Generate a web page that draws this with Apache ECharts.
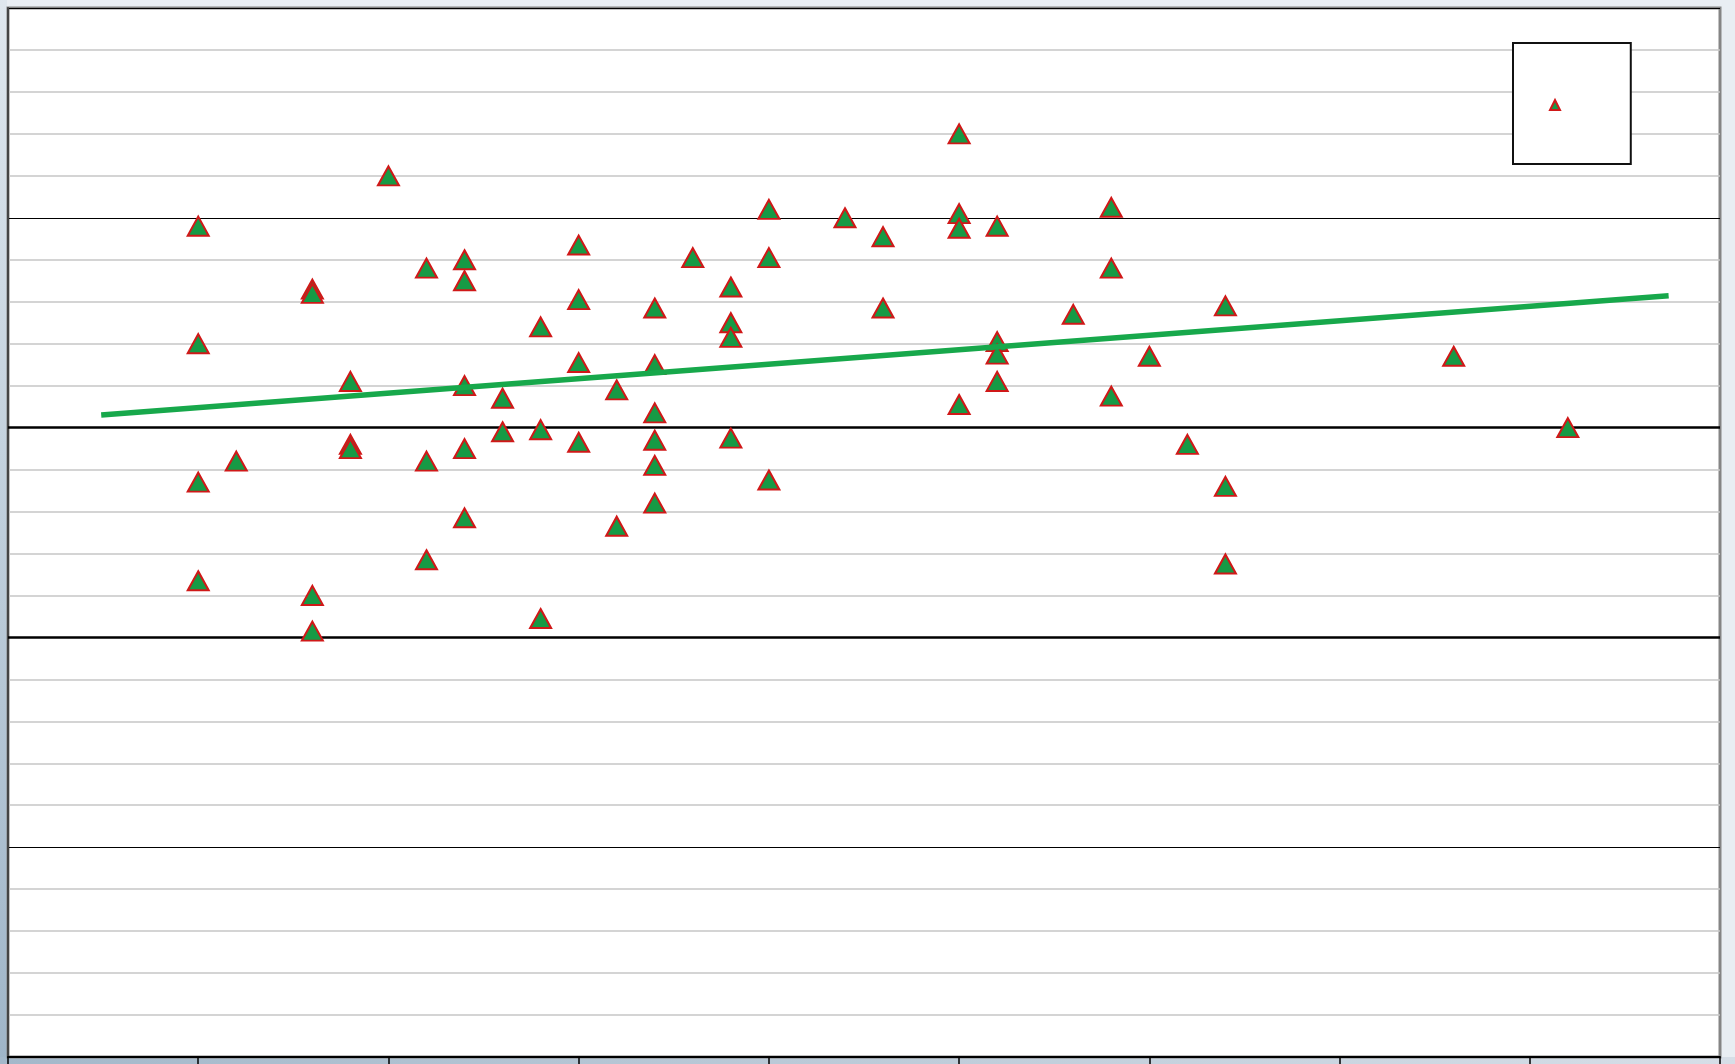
<!DOCTYPE html>
<html>
<head>
<meta charset="utf-8">
<script src="https://cdn.jsdelivr.net/npm/echarts@6/dist/echarts.min.js"></script>
<style>
  html, body { margin: 0; padding: 0; background: #e9eef3; }
  #chart { width: 1735px; height: 1064px; }
</style>
</head>
<body>
<div id="chart"></div>
<script>
// Observations: x position and measured value, one entry per marker
const pointX = [
  5, 5, 5, 5,
  6,
  8, 8, 8, 8,
  9, 9, 9,
  10,
  11, 11, 11,
  12, 12, 12, 12, 12,
  13, 13,
  14, 14, 14,
  15, 15, 15, 15,
  16, 16,
  17, 17, 17, 17, 17, 17,
  18,
  19, 19, 19, 19,
  20, 20, 20,
  22,
  23, 23,
  25, 25, 25, 25,
  26, 26, 26, 26,
  28,
  29, 29, 29,
  30,
  31,
  32, 32, 32,
  38,
  41
];
const pointY = [
  19.8, 17.0, 13.7, 11.35,
  14.2,
  18.3, 18.2, 11.0, 10.15,
  16.1, 14.6, 14.5,
  21.0,
  18.8, 14.2, 11.85,
  19.0, 18.5, 16.0, 14.5, 12.85,
  15.7, 14.9,
  17.4, 14.95, 10.45,
  19.35, 18.05, 16.55, 14.65,
  15.9, 12.65,
  17.85, 16.5, 15.35, 14.7, 14.1, 13.2,
  19.05,
  18.35, 17.5, 17.15, 14.75,
  20.2, 19.05, 13.75,
  20.0,
  19.55, 17.85,
  22.0, 20.1, 19.75, 15.55,
  19.8, 17.05, 16.75, 16.1,
  17.7,
  20.25, 18.8, 15.75,
  16.7,
  14.6,
  17.9, 13.6, 11.75,
  16.7,
  15.0
];

// Linear trend line end points
const trendX = [2.45, 43.65];
const trendY = [15.3, 18.14];

// Axis ranges
const xRange = [0, 45];
const yRange = [0, 25];
const heavyLines = [10, 15];

const points = pointX.map((x, i) => [x, pointY[i]]);
const trend = trendX.map((x, i) => [x, trendY[i]]);

const chart = echarts.init(document.getElementById('chart'));
chart.setOption({
  animation: false,
  backgroundColor: '#e9eef3',
  graphic: [
    {
      type: 'rect', z: -10, silent: true,
      shape: { x: 0, y: 0, width: 7, height: 1064 },
      style: { fill: { type: 'linear', x: 0, y: 0, x2: 0, y2: 1,
        colorStops: [{ offset: 0, color: '#dfe7ee' }, { offset: 1, color: '#9fb5c8' }] } }
    },
    {
      type: 'rect', z: -10, silent: true,
      shape: { x: 0, y: 1057, width: 1735, height: 7 },
      style: { fill: { type: 'linear', x: 0, y: 0, x2: 1, y2: 0,
        colorStops: [{ offset: 0, color: '#a3b8ca' }, { offset: 1, color: '#d6dee7' }] } }
    }
  ],
  grid: {
    left: 8, right: 15, top: 8, bottom: 7,
    show: true,
    backgroundColor: '#ffffff',
    borderColor: '#858585',
    borderWidth: 3
  },
  legend: {
    data: [' '],
    left: 1513, top: 43,
    orient: 'vertical',
    backgroundColor: '#ffffff',
    borderColor: '#111111',
    borderWidth: 2,
    borderRadius: 0,
    padding: [56, 63, 53, 36],
    itemWidth: 10, itemHeight: 10,
    icon: 'triangle',
    textStyle: { fontSize: 10, color: '#000' },
    selectedMode: false
  },
  xAxis: {
    type: 'value',
    min: xRange[0], max: xRange[1], interval: 5,
    axisLine: { show: true, onZero: false, lineStyle: { color: '#000', width: 2 } },
    axisTick: { show: true, inside: false, length: 8, lineStyle: { color: '#000', width: 1.5 } },
    axisLabel: { show: false },
    splitLine: { show: false }
  },
  yAxis: {
    type: 'value',
    min: yRange[0], max: yRange[1], interval: 5,
    axisLine: { show: true, onZero: false, lineStyle: { color: '#444', width: 2 } },
    axisTick: { show: false },
    axisLabel: { show: false },
    splitLine: { show: true, lineStyle: { color: '#000', width: 1 } },
    minorTick: { show: false, splitNumber: 5 },
    minorSplitLine: { show: true, lineStyle: { color: '#c6c6c6', width: 1.5 } }
  },
  series: [
    {
      name: ' ',
      type: 'scatter',
      z: 2,
      data: points,
      symbol: 'triangle',
      symbolSize: [21, 19],
      itemStyle: { color: '#169a45', borderColor: '#d01818', borderWidth: 2, opacity: 1 },
      markLine: {
        silent: true,
        z: 1,
        symbol: ['none', 'none'],
        label: { show: false },
        lineStyle: { color: '#000', width: 2.5, type: 'solid' },
        data: heavyLines.map(v => ({ yAxis: v }))
      }
    },
    {
      name: 'trend',
      type: 'line',
      z: 3,
      data: trend,
      symbol: 'none',
      lineStyle: { color: '#17a84b', width: 5.5 }
    }
  ]
});
</script>
</body>
</html>
